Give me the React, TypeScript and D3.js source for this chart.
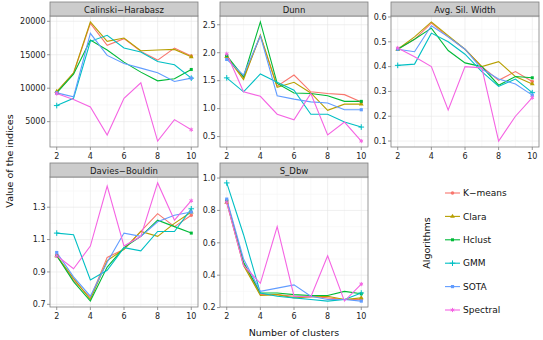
import * as d3 from "d3";

const clusters = [2, 3, 4, 5, 6, 7, 8, 9, 10];
const algorithms = ["K\u2212means", "Clara", "Hclust", "GMM", "SOTA", "Spectral"];
const indexNames = ["Calinski\u2212Harabasz", "Dunn", "Avg. Sil. Width", "Davies\u2212Bouldin", "S_Dbw"];

// one row per algorithm, same order as `algorithms`
const calinski = [
  [9400, 12200, 19700, 16400, 17400, 15500, 14200, 16000, 14800],
  [9500, 12300, 19900, 17000, 17500, 15600, 15700, 15800, 14700],
  [9300, 12100, 17200, 15700, 13900, 12400, 11100, 11400, 12800],
  [7400, 8500, 17000, 17900, 16000, 15400, 14000, 13500, 11500],
  [9300, 8700, 18200, 14900, 13700, 13000, 12300, 11000, 11500],
  [9200, 8300, 7200, 3000, 8500, 10800, 2100, 5300, 3800],
];
const dunn = [
  [1.93, 1.55, 2.3, 1.4, 1.6, 1.3, 1.27, 1.25, 1.12],
  [1.93, 1.52, 2.32, 1.38, 1.47, 1.28, 0.97, 1.08, 1.08],
  [1.95, 1.57, 2.55, 1.45, 1.28, 1.27, 1.23, 1.13, 1.13],
  [1.55, 1.3, 1.62, 1.47, 1.33, 0.9, 0.9, 0.76, 0.67],
  [1.88, 1.6, 2.3, 1.23, 1.17, 1.12, 1.1, 0.98, 0.98],
  [1.98, 1.3, 1.22, 0.9, 0.8, 1.27, 0.53, 0.76, 0.42],
];
const silhouette = [
  [0.47, 0.51, 0.575, 0.52, 0.47, 0.4, 0.345, 0.38, 0.34],
  [0.47, 0.52, 0.58, 0.525, 0.47, 0.4, 0.42, 0.36, 0.33],
  [0.47, 0.51, 0.555, 0.465, 0.415, 0.4, 0.325, 0.36, 0.355],
  [0.405, 0.41, 0.535, 0.5, 0.45, 0.38, 0.32, 0.35, 0.295],
  [0.47, 0.46, 0.565, 0.52, 0.47, 0.39, 0.35, 0.33, 0.285],
  [0.475, 0.44, 0.4, 0.225, 0.4, 0.395, 0.1, 0.2, 0.275],
];
const daviesBouldin = [
  [1.0, 0.85, 0.74, 0.99, 1.04, 1.15, 1.26, 1.18, 1.25],
  [1.0, 0.86, 0.73, 0.97, 1.04, 1.15, 1.12, 1.2, 1.27],
  [1.0, 0.84, 0.72, 0.93, 1.05, 1.12, 1.22, 1.18, 1.14],
  [1.14, 1.13, 0.85, 0.91, 1.05, 1.03, 1.15, 1.15, 1.29],
  [1.02, 0.87, 0.75, 0.96, 1.14, 1.12, 1.21, 1.25, 1.27],
  [1.0, 0.92, 1.06, 1.43, 1.06, 1.12, 1.45, 1.22, 1.34],
];
const sdbw = [
  [0.86, 0.47, 0.28, 0.28, 0.27, 0.27, 0.26, 0.25, 0.25],
  [0.85, 0.46, 0.275, 0.28, 0.26, 0.265, 0.27, 0.25, 0.26],
  [0.86, 0.48, 0.29, 0.29, 0.28, 0.275, 0.275, 0.3, 0.285],
  [0.97, 0.65, 0.29, 0.27, 0.26, 0.25, 0.24, 0.25, 0.29],
  [0.87, 0.5, 0.3, 0.32, 0.34, 0.27, 0.25, 0.25, 0.24],
  [0.85, 0.46, 0.35, 0.7, 0.27, 0.265, 0.52, 0.24, 0.345],
];

const xTicks = [2, 4, 6, 8, 10];
const yTicks = [
  [5000, 10000, 15000, 20000],
  [0.5, 1.0, 1.5, 2.0, 2.5],
  [0.1, 0.2, 0.3, 0.4, 0.5, 0.6],
  [0.7, 0.9, 1.1, 1.3],
  [0.2, 0.4, 0.6, 0.8, 1.0],
];
const yFormats = [d3.format("d"), d3.format(".1f"), d3.format(".1f"), d3.format(".1f"), d3.format(".1f")];
const indexData = [calinski, dunn, silhouette, daviesBouldin, sdbw];

const colors = ["#F8766D", "#B79F00", "#00BA38", "#00BFC4", "#619CFF", "#F564E3"];
const symbols = [d3.symbolCircle, d3.symbolTriangle, d3.symbolSquare, d3.symbolPlus, d3.symbolSquare, d3.symbolAsterisk];
const symbolSizes = [10, 10, 9, 12, 10, 12];
const strokeSymbol = [false, false, false, true, false, true];

const panelW = 148;
const colX = [50, 220, 391];
const rows = [
  { stripTop: 2, top: 16, bottom: 147 },
  { stripTop: 163, top: 177, bottom: 307 },
];
const font = "DejaVu Sans, sans-serif";

function Marker({ i, x, y }: { i: number; x: number; y: number }) {
  const d = d3.symbol(symbols[i], symbolSizes[i])() || "";
  return strokeSymbol[i] ? (
    <path d={d} transform={`translate(${x},${y})`} fill="none" stroke={colors[i]} strokeWidth={1} />
  ) : (
    <path d={d} transform={`translate(${x},${y})`} fill={colors[i]} />
  );
}

function Panel({ p }: { p: number }) {
  const row = rows[p < 3 ? 0 : 1];
  const left = colX[p % 3];
  const series = indexData[p];
  const all = series.flat();
  const [lo, hi] = d3.extent(all) as [number, number];
  const pad = (hi - lo) * 0.05;
  const x = d3.scaleLinear().domain([1.6, 10.4]).range([left, left + panelW]);
  const y = d3.scaleLinear().domain([lo - pad, hi + pad]).range([row.bottom, row.top]);
  const ticks = yTicks[p];
  const step = ticks[1] - ticks[0];
  const yMinor = [ticks[0] - step / 2, ...ticks.map((t) => t + step / 2)].filter(
    (v) => v > lo - pad && v < hi + pad
  );
  const xMinor = [3, 5, 7, 9];
  const line = d3
    .line<number>()
    .x((_, i) => x(clusters[i]))
    .y((v) => y(v));
  return (
    <g>
      <rect x={left} y={row.top} width={panelW} height={row.bottom - row.top} fill="#fff" />
      {yMinor.map((v) => (
        <line key={"ym" + v} x1={left} x2={left + panelW} y1={y(v)} y2={y(v)} stroke="#f5f5f5" strokeWidth={0.6} />
      ))}
      {xMinor.map((v) => (
        <line key={"xm" + v} x1={x(v)} x2={x(v)} y1={row.top} y2={row.bottom} stroke="#f5f5f5" strokeWidth={0.6} />
      ))}
      {ticks.map((v) => (
        <line key={"yg" + v} x1={left} x2={left + panelW} y1={y(v)} y2={y(v)} stroke="#e5e5e5" strokeWidth={0.6} />
      ))}
      {xTicks.map((v) => (
        <line key={"xg" + v} x1={x(v)} x2={x(v)} y1={row.top} y2={row.bottom} stroke="#e5e5e5" strokeWidth={0.6} />
      ))}
      {series.map((vals, i) => (
        <path key={"l" + i} d={line(vals) || ""} fill="none" stroke={colors[i]} strokeWidth={1.1} />
      ))}
      {series.map((vals, i) => (
        <g key={"m" + i}>
          <Marker i={i} x={x(clusters[0])} y={y(vals[0])} />
          <Marker i={i} x={x(clusters[clusters.length - 1])} y={y(vals[vals.length - 1])} />
        </g>
      ))}
      <rect x={left} y={row.top} width={panelW} height={row.bottom - row.top} fill="none" stroke="#7f7f7f" strokeWidth={0.8} />
      <rect x={left} y={row.stripTop} width={panelW} height={row.top - row.stripTop} fill="#cccccc" stroke="#7f7f7f" strokeWidth={0.8} />
      <text x={left + panelW / 2} y={row.top - 3.5} textAnchor="middle" fontSize={8.5} fontFamily={font} fill="#1a1a1a">
        {indexNames[p]}
      </text>
      {ticks.map((v) => (
        <g key={"yt" + v}>
          <line x1={left - 3} x2={left} y1={y(v)} y2={y(v)} stroke="#7f7f7f" strokeWidth={0.8} />
          <text x={left - 4.5} y={y(v)} dy="0.35em" textAnchor="end" fontSize={8} fontFamily={font} fill="#222">
            {yFormats[p](v)}
          </text>
        </g>
      ))}
      {xTicks.map((v) => (
        <g key={"xt" + v}>
          <line x1={x(v)} x2={x(v)} y1={row.bottom} y2={row.bottom + 3} stroke="#7f7f7f" strokeWidth={0.8} />
          <text x={x(v)} y={row.bottom + 12} textAnchor="middle" fontSize={8} fontFamily={font} fill="#222">
            {v}
          </text>
        </g>
      ))}
    </g>
  );
}

export default function App() {
  const legendY = d3.scalePoint<string>().domain(algorithms).range([193, 310]);
  return (
    <svg width={543} height={340} style={{ position: "absolute", left: 0, top: 0 }}>
      <rect width={543} height={340} fill="#fff" />
      {indexNames.map((_, p) => (
        <Panel key={p} p={p} />
      ))}
      <text x={294} y={336} textAnchor="middle" fontSize={9.5} fontFamily={font} fill="#111">
        Number of clusters
      </text>
      <text transform="translate(13,161) rotate(-90)" textAnchor="middle" fontSize={9.5} fontFamily={font} fill="#111">
        Value of the indices
      </text>
      <text transform="translate(430,243) rotate(-90)" textAnchor="middle" fontSize={9.5} fontFamily={font} fill="#111">
        Algorithms
      </text>
      {algorithms.map((a, i) => (
        <g key={a}>
          <line x1={445} x2={460} y1={legendY(a)} y2={legendY(a)} stroke={colors[i]} strokeWidth={1.1} />
          <Marker i={i} x={452.5} y={legendY(a) as number} />
          <text x={463} y={legendY(a)} dy="0.35em" fontSize={9} fontFamily={font} fill="#111">
            {a}
          </text>
        </g>
      ))}
    </svg>
  );
}
